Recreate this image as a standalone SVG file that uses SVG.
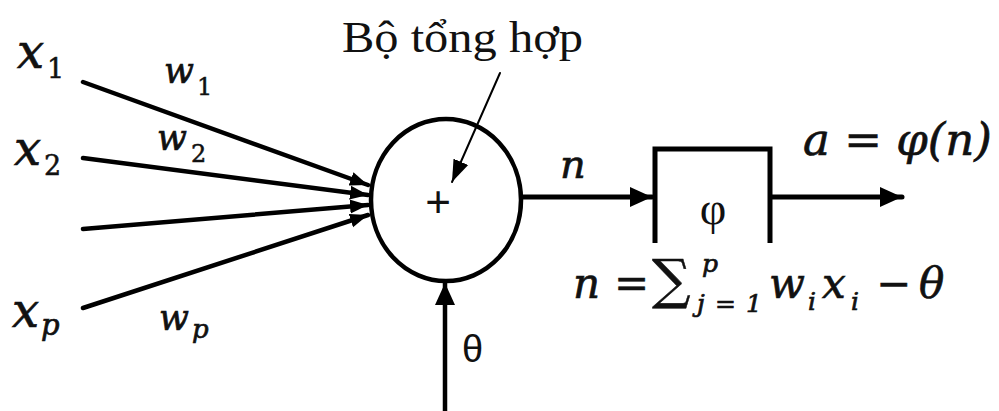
<svg xmlns="http://www.w3.org/2000/svg" width="999" height="411" viewBox="0 0 999 411">
<style>
.ln{stroke:#000;fill:none;stroke-linecap:round}
.in{stroke-width:4.5;marker-end:url(#ah)}
.m{font-family:"DejaVu Serif","Liberation Serif",serif;font-style:italic;fill:#111;stroke:#111;stroke-width:0.7}
.d{font-family:"DejaVu Serif","Liberation Serif",serif;fill:#111;stroke:#111;stroke-width:0.5}
.r{font-family:"Liberation Serif","DejaVu Serif",serif;fill:#111}
.s{font-family:"Liberation Sans","DejaVu Sans",sans-serif;fill:#111}
</style>
<defs>
<marker id="ah" markerUnits="userSpaceOnUse" markerWidth="20" markerHeight="16" refX="18" refY="8" orient="auto"><path d="M0,1 L18,8 L0,15 Z" fill="#000"/></marker>
<marker id="ahb" markerUnits="userSpaceOnUse" markerWidth="24" markerHeight="24" refX="22" refY="12" orient="auto"><path d="M0,2 L22,12 L0,22 Z" fill="#000"/></marker>
<marker id="ahs" markerUnits="userSpaceOnUse" markerWidth="24" markerHeight="18" refX="22" refY="9" orient="auto"><path d="M0,1 L22,9 L0,17 Z" fill="#000"/></marker>
</defs>
<rect width="999" height="411" fill="#fff"/>
<g id="connectors">
<line class="ln in" x1="83" y1="82" x2="368" y2="185"/>
<line class="ln in" x1="83" y1="158" x2="368" y2="195"/>
<line class="ln in" x1="83" y1="229" x2="368" y2="205"/>
<line class="ln in" x1="83" y1="308" x2="368" y2="215"/>
<line class="ln" stroke-width="5" x1="522" y1="197" x2="652" y2="197" marker-end="url(#ahb)"/>
<line class="ln" stroke-width="5" x1="772" y1="197" x2="902" y2="197" marker-end="url(#ahb)"/>
<line class="ln" stroke-width="4.5" x1="445" y1="411" x2="445" y2="283" marker-end="url(#ahb)"/>
<line class="ln" stroke-width="2" x1="500" y1="73" x2="452" y2="182" marker-end="url(#ahs)"/>
</g>
<g id="inputs">
<text class="m" x="17" y="68" font-size="48">x</text><text class="d" x="47" y="78" font-size="27">1</text>
<text class="m" x="14" y="165" font-size="48">x</text><text class="d" x="44" y="175" font-size="27">2</text>
<text class="m" x="12" y="327" font-size="48">x</text><text class="m" x="41" y="335" font-size="29">p</text>
</g>
<g id="weights">
<text class="m" x="164" y="83" font-size="35">w</text><text class="d" x="197" y="95" font-size="24">1</text>
<text class="m" x="157" y="150" font-size="35">w</text><text class="d" x="191" y="162" font-size="24">2</text>
<text class="m" x="159" y="330" font-size="35">w</text><text class="m" x="192" y="338" font-size="26">p</text>
</g>
<g id="summer">
<ellipse cx="446" cy="200" rx="75" ry="81" fill="none" stroke="#000" stroke-width="4.5"/>
<text class="s" x="438" y="217" font-size="44" text-anchor="middle" fill="#333">+</text>
</g>
<g id="summer-label">
<text class="r" x="342" y="52" font-size="45" textLength="241" lengthAdjust="spacingAndGlyphs">Bộ tổng hợp</text>
</g>
<g id="activation">
<path d="M655,243 V149 H770 V243" fill="none" stroke="#000" stroke-width="5"/>
<text class="r" x="713" y="224" font-size="46" text-anchor="middle">φ</text>
</g>
<g id="labels">
<text class="m" x="560" y="178" font-size="40">n</text>
<text class="m" x="803" y="155" font-size="45">a = φ(n)</text>
<text class="s" x="462" y="362" font-size="38">θ</text>
</g>
<g id="formula">
<text class="m" x="573" y="298" font-size="42">n</text>
<text class="d" x="614" y="298" font-size="42">=</text>
<text class="d" x="652" y="298" font-size="54">∑</text>
<text class="m" x="702" y="272" font-size="25">p</text>
<text class="m" x="697" y="312" font-size="25" textLength="65" lengthAdjust="spacing">j=1</text>
<text class="m" x="769" y="298" font-size="42">w</text>
<text class="m" x="808" y="310" font-size="25">i</text>
<text class="m" x="822" y="298" font-size="42">x</text>
<text class="m" x="851" y="310" font-size="25">i</text>
<text class="d" x="876" y="298" font-size="42">−</text>
<text class="m" x="919" y="298" font-size="42">θ</text>
</g>
</svg>
